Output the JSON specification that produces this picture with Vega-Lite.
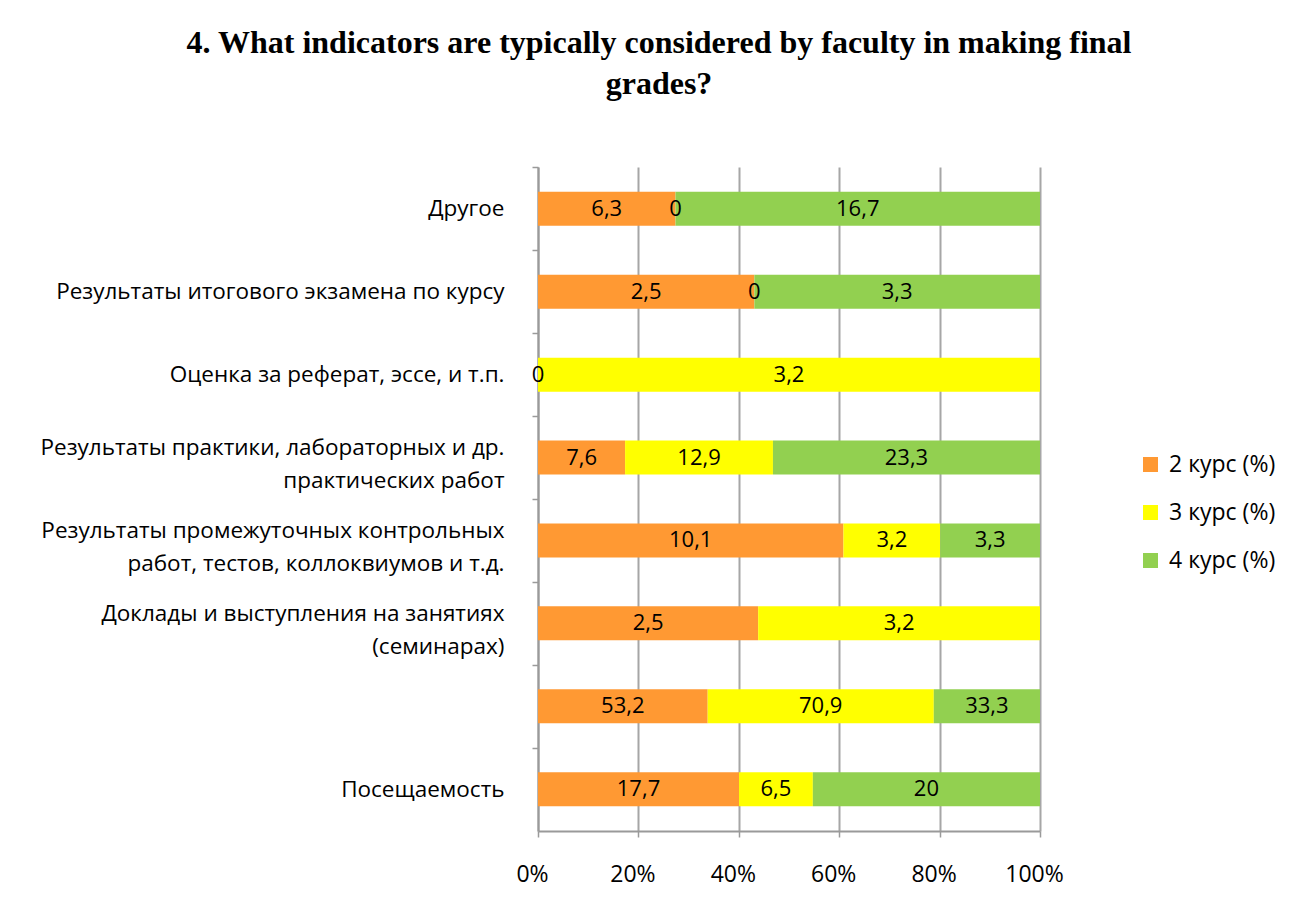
{
  "$schema": "https://vega.github.io/schema/vega-lite/v6.json",
  "autosize": {"type": "none"},
  "padding": {"left": 538, "top": 167, "right": 267, "bottom": 84},
  "width": 502,
  "height": 664,
  "background": "white",
  "config": {
    "view": {"stroke": null},
    "locale": {"number": {"decimal": ",", "thousands": " ", "grouping": [3], "currency": ["", ""]}}
  },
  "title": {
    "text": ["4. What indicators are typically considered by faculty in making final", "grades?"],
    "font": "Liberation Serif",
    "fontSize": 32,
    "fontWeight": "bold",
    "color": "black",
    "anchor": "middle",
    "align": "center",
    "dx": -130,
    "offset": 65,
    "lineHeight": 41
  },
  "data": {
    "values": [
      {"cat": "Другое", "series": "2 курс (%)", "value": 6.3},
      {"cat": "Другое", "series": "3 курс (%)", "value": 0},
      {"cat": "Другое", "series": "4 курс (%)", "value": 16.7},
      {"cat": "Результаты итогового экзамена по курсу", "series": "2 курс (%)", "value": 2.5},
      {"cat": "Результаты итогового экзамена по курсу", "series": "3 курс (%)", "value": 0},
      {"cat": "Результаты итогового экзамена по курсу", "series": "4 курс (%)", "value": 3.3},
      {"cat": "Оценка за реферат, эссе, и т.п.", "series": "2 курс (%)", "value": 0},
      {"cat": "Оценка за реферат, эссе, и т.п.", "series": "3 курс (%)", "value": 3.2},
      {"cat": "Результаты практики, лабораторных и др.|практических работ", "series": "2 курс (%)", "value": 7.6},
      {"cat": "Результаты практики, лабораторных и др.|практических работ", "series": "3 курс (%)", "value": 12.9},
      {"cat": "Результаты практики, лабораторных и др.|практических работ", "series": "4 курс (%)", "value": 23.3},
      {"cat": "Результаты промежуточных контрольных|работ, тестов, коллоквиумов и т.д.", "series": "2 курс (%)", "value": 10.1},
      {"cat": "Результаты промежуточных контрольных|работ, тестов, коллоквиумов и т.д.", "series": "3 курс (%)", "value": 3.2},
      {"cat": "Результаты промежуточных контрольных|работ, тестов, коллоквиумов и т.д.", "series": "4 курс (%)", "value": 3.3},
      {"cat": "Доклады и выступления на занятиях|(семинарах)", "series": "2 курс (%)", "value": 2.5},
      {"cat": "Доклады и выступления на занятиях|(семинарах)", "series": "3 курс (%)", "value": 3.2},
      {"cat": "", "series": "2 курс (%)", "value": 53.2},
      {"cat": "", "series": "3 курс (%)", "value": 70.9},
      {"cat": "", "series": "4 курс (%)", "value": 33.3},
      {"cat": "Посещаемость", "series": "2 курс (%)", "value": 17.7},
      {"cat": "Посещаемость", "series": "3 курс (%)", "value": 6.5},
      {"cat": "Посещаемость", "series": "4 курс (%)", "value": 20}
    ]
  },
  "transform": [
    {"stack": "value", "groupby": ["cat"], "sort": [{"field": "series", "order": "ascending"}], "offset": "normalize", "as": ["v0", "v1"]},
    {"calculate": "(datum.v0 + datum.v1) / 2", "as": "mid"}
  ],
  "encoding": {
    "y": {
      "field": "cat",
      "type": "nominal",
      "sort": ["Другое", "Результаты итогового экзамена по курсу", "Оценка за реферат, эссе, и т.п.", "Результаты практики, лабораторных и др.|практических работ", "Результаты промежуточных контрольных|работ, тестов, коллоквиумов и т.д.", "Доклады и выступления на занятиях|(семинарах)", "", "Посещаемость"],
      "scale": {"paddingInner": 0.59, "paddingOuter": 0.3},
      "axis": {
        "title": null,
        "labelExpr": "isValid(datum.value) ? split(datum.value, '|') : ''",
        "labelFont": "Open Sans",
        "labelFontSize": 22.5,
        "labelColor": "black",
        "labelLineHeight": 33,
        "tickBand": "center",
        "tickOffset": -41.5,
        "labelOffset": {"condition": {"test": "isValid(datum.value) && indexof(datum.value, '|') >= 0", "value": 31.5}, "value": 41.5},
        "labelPadding": 28,
        "labelLimit": 600,
        "tickColor": "#9a9a9a",
        "tickSize": 6,
        "tickWidth": 1.5,
        "domainColor": "#9a9a9a",
        "domainWidth": 2,
        "grid": false
      }
    }
  },
  "layer": [
    {
      "mark": {"type": "bar"},
      "encoding": {
        "x": {
          "field": "v0",
          "type": "quantitative",
          "scale": {"domain": [0, 1]},
          "axis": {
            "title": null,
            "format": ".0%",
            "values": [0, 0.2, 0.4, 0.6, 0.8, 1],
            "labelFont": "Open Sans",
            "labelFontSize": 23,
            "labelColor": "black",
            "labelFlush": false,
            "labelOffset": -6,
            "labelPadding": 26,
            "grid": true,
            "gridColor": "#a6a6a6",
            "gridWidth": 2,
            "tickColor": "#9a9a9a",
            "tickSize": 6,
            "tickWidth": 1.5,
            "domainColor": "#9a9a9a",
            "domainWidth": 2
          }
        },
        "x2": {"field": "v1"},
        "color": {
          "field": "series",
          "type": "nominal",
          "scale": {"domain": ["2 курс (%)", "3 курс (%)", "4 курс (%)"], "range": ["#FF9933", "#FFFF00", "#92D050"]},
          "legend": {
            "title": null,
            "orient": "none",
            "legendX": 601,
            "legendY": 286,
            "symbolType": "square",
            "symbolSize": 225,
            "symbolStrokeWidth": 0,
            "labelFont": "Open Sans",
            "labelFontSize": 23,
            "labelOffset": 7,
            "labelColor": "black",
            "rowPadding": 24
          }
        }
      }
    },
    {
      "mark": {"type": "text", "font": "Open Sans", "fontSize": 22, "color": "black"},
      "encoding": {
        "x": {"field": "mid", "type": "quantitative"},
        "text": {"field": "value", "type": "quantitative", "format": ".1~f"}
      }
    }
  ]
}
